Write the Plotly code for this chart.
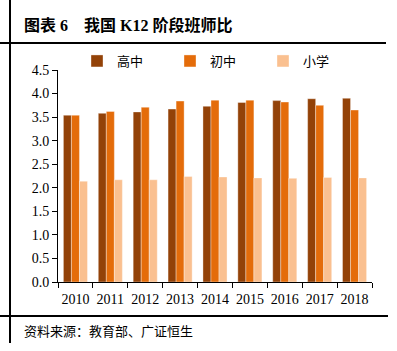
import plotly.graph_objects as go

years = ["2010", "2011", "2012", "2013", "2014", "2015", "2016", "2017", "2018"]
high = [3.54, 3.58, 3.61, 3.67, 3.73, 3.81, 3.85, 3.89, 3.90]
middle = [3.54, 3.62, 3.71, 3.84, 3.86, 3.86, 3.82, 3.75, 3.65]
primary = [2.14, 2.17, 2.17, 2.24, 2.23, 2.21, 2.20, 2.22, 2.21]
series_names = ["高中", "初中", "小学"]
colors = ["#934208", "#E46C0A", "#FAC090"]

W, H = 397, 351
L, R, T, B = 58, 372, 70, 282

def px(x):
    return (x - L) / (R - L)

def py(y):
    return (B - y) / (B - T)

font_fam = "Liberation Serif, Noto Sans CJK SC, serif"

fig = go.Figure()
for name, vals, c in zip(series_names, [high, middle, primary], colors):
    fig.add_trace(go.Bar(x=years, y=vals, name=name, marker_color=c,
                         marker_line=dict(color="rgba(255,255,255,0.6)", width=0.6)))

fig.update_layout(
    width=W, height=H,
    margin=dict(l=L, r=W - R, t=T, b=H - B),
    paper_bgcolor="white", plot_bgcolor="white",
    barmode="group", bargap=0.31, bargroupgap=0,
    font=dict(family=font_fam, size=14, color="black"),
    showlegend=True,
    legend=dict(orientation="h", x=px(77), xanchor="left", y=py(61), yanchor="middle",
                entrywidth=48, entrywidthmode="pixels",
                font=dict(size=13, family="Noto Sans CJK SC"), itemwidth=30,
                bgcolor="rgba(0,0,0,0)"),
    xaxis=dict(showline=True, linecolor="black", linewidth=1, ticks="outside",
               tickson="boundaries", ticklen=5, tickcolor="black", tickangle=0,
               ticklabelstandoff=4,
               tickfont=dict(size=14, family=font_fam), showgrid=False),
    yaxis=dict(range=[0, 4.5], dtick=0.5, tickformat=".1f", showline=True,
               linecolor="black", linewidth=1, ticks="outside", ticklen=5,
               tickcolor="black", showgrid=False, zeroline=False,
               tickfont=dict(size=14, family=font_fam)),
)

shapes = [
    dict(type="line", xref="paper", yref="paper", x0=px(10), x1=px(10), y0=py(0), y1=py(343),
         line=dict(color="black", width=2)),
    dict(type="line", xref="paper", yref="paper", x0=px(0), x1=px(386), y0=py(43), y1=py(43),
         line=dict(color="black", width=2)),
    dict(type="line", xref="paper", yref="paper", x0=px(0), x1=px(388), y0=py(316), y1=py(316),
         line=dict(color="black", width=2)),
]
fig.update_layout(shapes=shapes)

fig.add_annotation(xref="paper", yref="paper", x=px(22), y=py(25), xanchor="left", yanchor="middle",
                   text="<b>图表 6&nbsp;&nbsp;&nbsp;&nbsp;我国 K12 阶段班师比</b>", showarrow=False,
                   font=dict(size=16, family="Liberation Serif, Noto Sans CJK SC"))
fig.add_annotation(xref="paper", yref="paper", x=px(22), y=py(330), xanchor="left", yanchor="middle",
                   text="资料来源：教育部、广证恒生", showarrow=False,
                   font=dict(size=13, family="Noto Sans CJK SC"))

fig.write_html("out.html")
